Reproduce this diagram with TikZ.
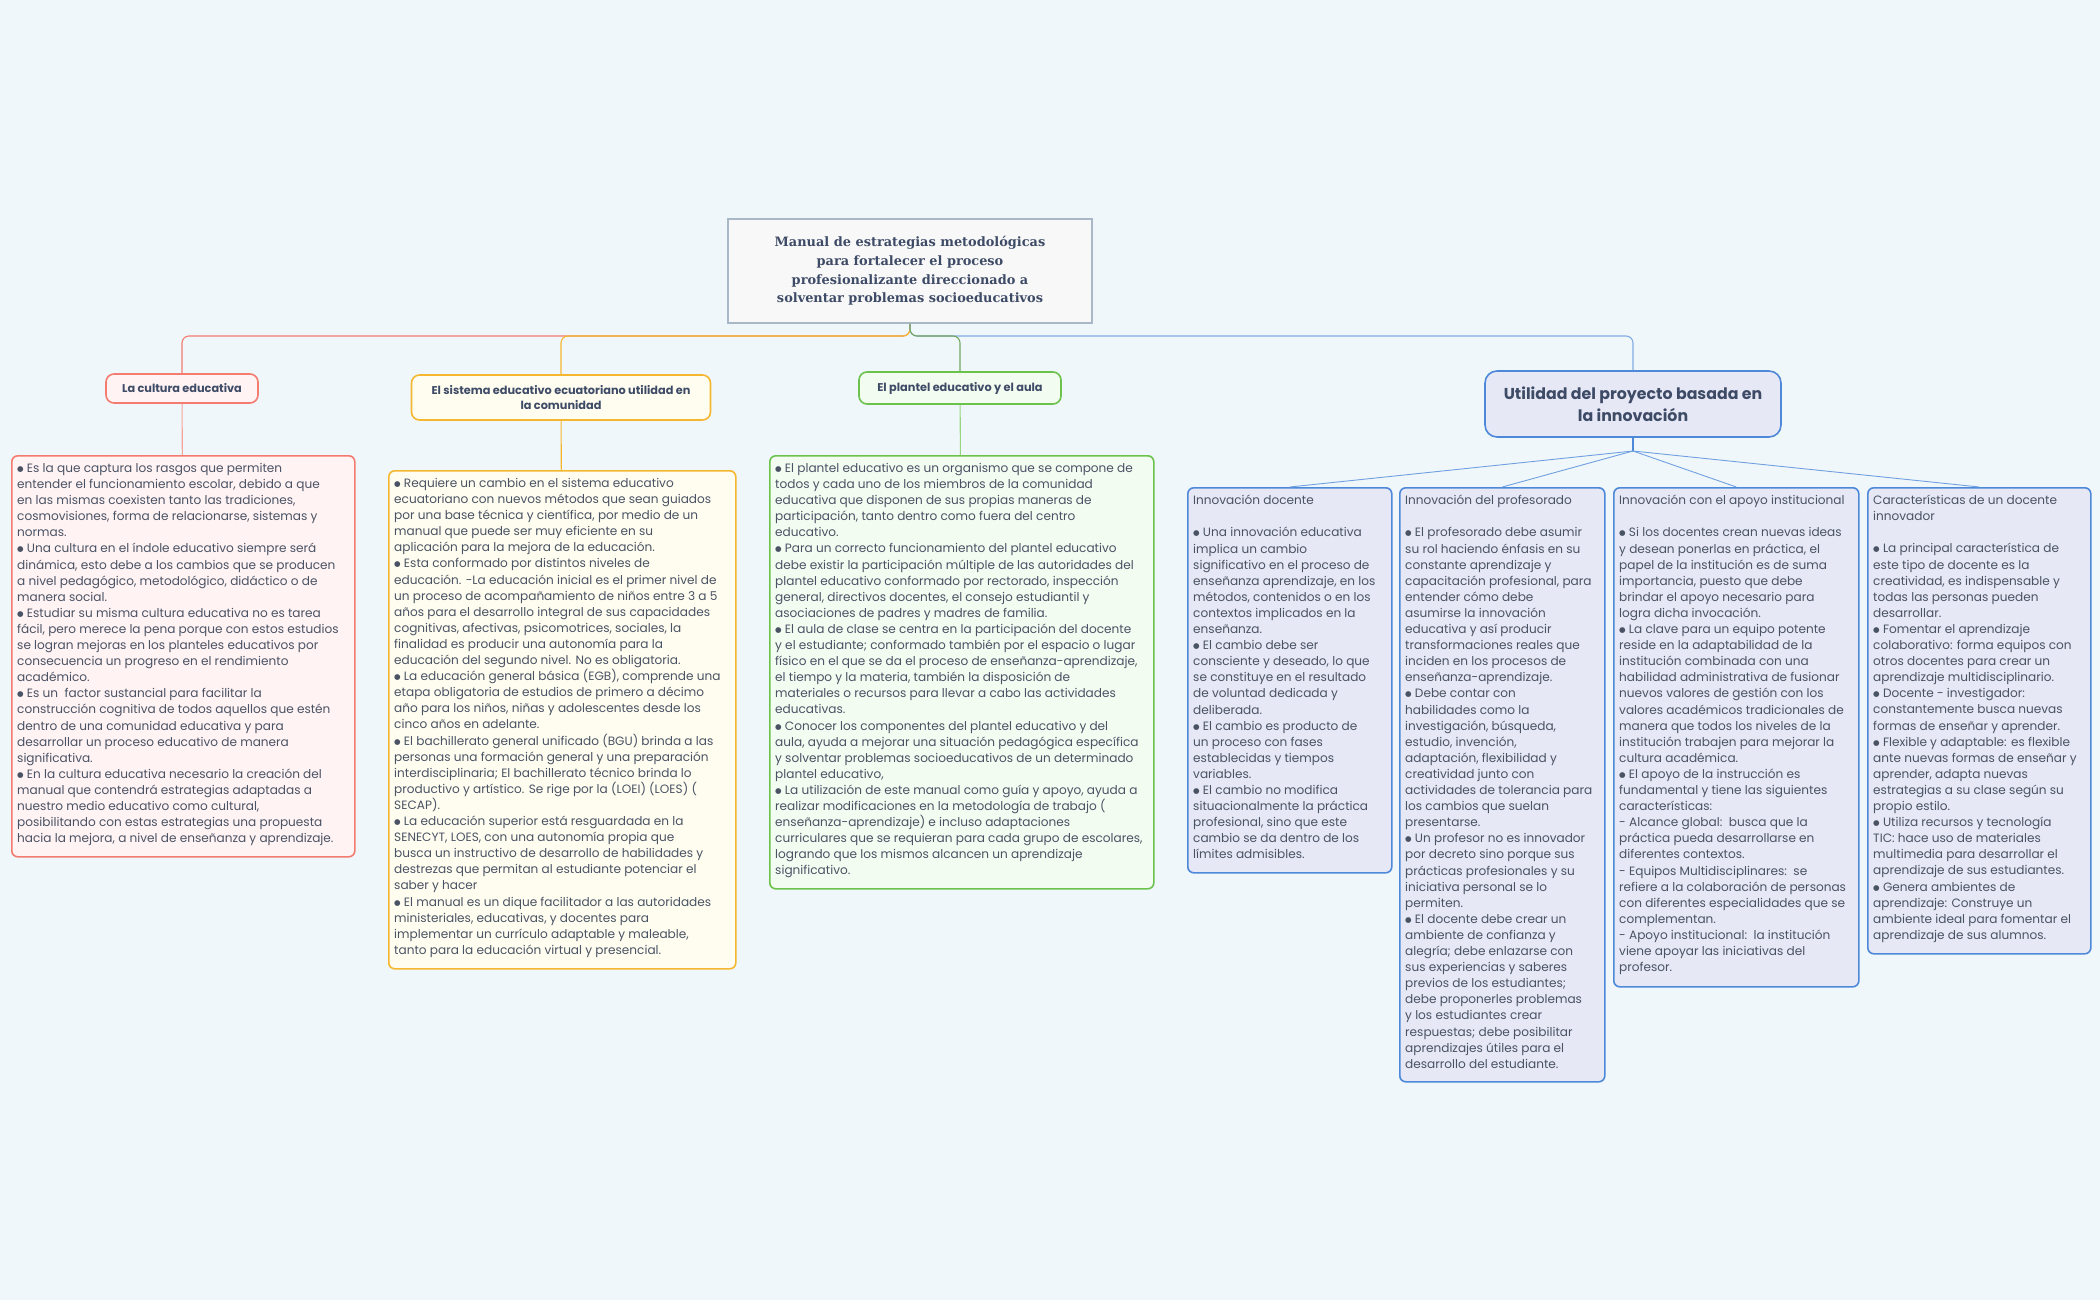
\documentclass[tikz,border=0pt]{standalone}
\usepackage{fontspec}
\setmainfont{Poppins}
\newfontfamily\dejavu{DejaVu Sans}
\newfontfamily\rootfont{DejaVu Serif}
\newcommand\mybul{\raisebox{0.15ex}{\dejavu\fontsize{7.5}{0}\selectfont ●}~}
\definecolor{bg}{HTML}{EFF7FA}
\definecolor{txt}{HTML}{4A5364}
\definecolor{hd}{HTML}{3E4B66}
\definecolor{redb}{HTML}{F37B6F}\definecolor{redf}{HTML}{FFF3F4}
\definecolor{orab}{HTML}{F5B730}\definecolor{oraf}{HTML}{FFFDF0}
\definecolor{grnb}{HTML}{6CC34C}\definecolor{grnf}{HTML}{F3FCF1}
\definecolor{blub}{HTML}{4D88D9}\definecolor{bluf}{HTML}{E6E8F5}
\definecolor{rootb}{HTML}{A9B8C6}\definecolor{rootf}{HTML}{F8F8F8}
\tikzset{
  body/.style={anchor=north west,inner sep=0pt,align=left,text=txt,font=\fontsize{12.1}{16.1}\selectfont},
  box/.style={anchor=north west,draw,line width=1.6pt,rounded corners=6pt,inner sep=0pt},
  lvl/.style={draw,line width=1.6pt,rounded corners=8pt,align=center,text=hd,font=\bfseries\fontsize{11.3}{15}\selectfont,inner sep=0pt},
  conn/.style={line width=1.1pt,rounded corners=7pt},
}
\begin{document}
\begin{tikzpicture}[x=1pt,y=-1pt]
\fill[bg] (0,0) rectangle (2100,1300);
\useasboundingbox (0,0) rectangle (2100,1300);
% root
\node[draw=rootb,fill=rootf,line width=1.6pt,minimum width=364pt,minimum height=104pt,inner sep=0pt,align=center,text=hd,font=\rootfont\bfseries\fontsize{12.9}{18.7}\selectfont] (root) at (910,271)
{Manual de estrategias metodológicas\\para fortalecer el proceso\\profesionalizante direccionado a\\solventar problemas socioeducativos};
% level 1
\node[lvl,draw=redb,fill=redf,minimum width=152pt,minimum height=29pt] (c1) at (182,388.5) {La cultura educativa};
\node[lvl,draw=orab,fill=oraf,minimum width=299pt,minimum height=45pt] (c2) at (561,397.5) {El sistema educativo ecuatoriano utilidad en\\la comunidad};
\node[lvl,draw=grnb,fill=grnf,minimum width=202pt,minimum height=32pt] (c3) at (960,388) {El plantel educativo y el aula};
\node[lvl,draw=blub,fill=bluf,minimum width=296pt,minimum height=66pt,rounded corners=12pt,font=\bfseries\fontsize{15.8}{22}\selectfont] (c4) at (1633,404) {Utilidad del proyecto basada en\\la innovación};
% connectors from root
\coordinate (rb) at (root.south);
\coordinate (bar) at (910,336);
\draw[conn,redb] (rb) -- (bar) -| (c1.north);
\draw[conn,orab] (rb) -- (bar) -| (c2.north);
\draw[conn,blub!70] (rb) -- (bar) -| (c4.north);
\draw[conn,grnb!60!gray] (rb) -- (bar) -| (c3.north);
% level 2 boxes
\node[box,draw=redb,fill=redf,minimum width=343pt,minimum height=401pt] (r1) at (11,455) {};
\node[box,draw=orab,fill=oraf,minimum width=347pt,minimum height=498pt] (o1) at (388,470) {};
\node[box,draw=grnb,fill=grnf,minimum width=384pt,minimum height=433pt] (g1) at (769,455) {};
\node[box,draw=blub,fill=bluf,minimum width=204pt,minimum height=385pt] (b1) at (1187,487) {};
\node[box,draw=blub,fill=bluf,minimum width=205pt,minimum height=594pt] (b2) at (1399,487) {};
\node[box,draw=blub,fill=bluf,minimum width=245pt,minimum height=499pt] (b3) at (1613,487) {};
\node[box,draw=blub,fill=bluf,minimum width=223pt,minimum height=466pt] (b4) at (1867,487) {};
\draw[conn,redb!70] (c1) -- (r1);
\draw[conn,orab] (c2) -- (o1);
\draw[conn,grnb!70] (c3) -- (g1);
\coordinate (fan) at (1633,451);
\draw[conn,blub] (c4.south) -- (fan);
\foreach \b in {b1,b2,b3,b4} \draw[line width=0.9pt,blub!80] (fan) -- (\b.north);
% texts
\node[body] (t1) at (r1.north west) [xshift=6pt,yshift=-8pt] {\mybul Es la que captura los rasgos que permiten\\entender el funcionamiento escolar, debido a que\\en las mismas coexisten tanto las tradiciones,\\cosmovisiones, forma de relacionarse, sistemas y\\normas.\\\mybul Una cultura en el índole educativo siempre será\\dinámica, esto debe a los cambios que se producen\\a nivel pedagógico, metodológico, didáctico o de\\manera social.\\\mybul Estudiar su misma cultura educativa no es tarea\\fácil, pero merece la pena porque con estos estudios\\se logran mejoras en los planteles educativos por\\consecuencia un progreso en el rendimiento\\académico.\\\mybul Es un\ \ factor sustancial para facilitar la\\construcción cognitiva de todos aquellos que estén\\dentro de una comunidad educativa y para\\desarrollar un proceso educativo de manera\\significativa.\\\mybul En la cultura educativa necesario la creación del\\manual que contendrá estrategias adaptadas a\\nuestro medio educativo como cultural,\\posibilitando con estas estrategias una propuesta\\hacia la mejora, a nivel de enseñanza y aprendizaje.};
\node[body] (t2) at (o1.north west) [xshift=6pt,yshift=-8pt] {\mybul Requiere un cambio en el sistema educativo\\ecuatoriano con nuevos métodos que sean guiados\\por una base técnica y científica, por medio de un\\manual que puede ser muy eficiente en su\\aplicación para la mejora de la educación.\\\mybul Esta conformado por distintos niveles de\\educación. -La educación inicial es el primer nivel de\\un proceso de acompañamiento de niños entre 3 a 5\\años para el desarrollo integral de sus capacidades\\cognitivas, afectivas, psicomotrices, sociales, la\\finalidad es producir una autonomía para la\\educación del segundo nivel. No es obligatoria.\\\mybul La educación general básica (EGB), comprende una\\etapa obligatoria de estudios de primero a décimo\\año para los niños, niñas y adolescentes desde los\\cinco años en adelante.\\\mybul El bachillerato general unificado (BGU) brinda a las\\personas una formación general y una preparación\\interdisciplinaria; El bachillerato técnico brinda lo\\productivo y artístico. Se rige por la (LOEI) (LOES) (\\SECAP).\\\mybul La educación superior está resguardada en la\\SENECYT, LOES, con una autonomía propia que\\busca un instructivo de desarrollo de habilidades y\\destrezas que permitan al estudiante potenciar el\\saber y hacer\\\mybul El manual es un dique facilitador a las autoridades\\ministeriales, educativas, y docentes para\\implementar un currículo adaptable y maleable,\\tanto para la educación virtual y presencial.};
\node[body] (t3) at (g1.north west) [xshift=6pt,yshift=-8pt] {\mybul El plantel educativo es un organismo que se compone de\\todos y cada uno de los miembros de la comunidad\\educativa que disponen de sus propias maneras de\\participación, tanto dentro como fuera del centro\\educativo.\\\mybul Para un correcto funcionamiento del plantel educativo\\debe existir la participación múltiple de las autoridades del\\plantel educativo conformado por rectorado, inspección\\general, directivos docentes, el consejo estudiantil y\\asociaciones de padres y madres de familia.\\\mybul El aula de clase se centra en la participación del docente\\y el estudiante; conformado también por el espacio o lugar\\físico en el que se da el proceso de enseñanza-aprendizaje,\\el tiempo y la materia, también la disposición de\\materiales o recursos para llevar a cabo las actividades\\educativas.\\\mybul Conocer los componentes del plantel educativo y del\\aula, ayuda a mejorar una situación pedagógica específica\\y solventar problemas socioeducativos de un determinado\\plantel educativo,\\\mybul La utilización de este manual como guía y apoyo, ayuda a\\realizar modificaciones en la metodología de trabajo (\\enseñanza-aprendizaje) e incluso adaptaciones\\curriculares que se requieran para cada grupo de escolares,\\logrando que los mismos alcancen un aprendizaje\\significativo.};
\node[body] (t4) at (b1.north west) [xshift=6pt,yshift=-8pt] {Innovación docente\\[16.1pt]\mybul Una innovación educativa\\implica un cambio\\significativo en el proceso de\\enseñanza aprendizaje, en los\\métodos, contenidos o en los\\contextos implicados en la\\enseñanza.\\\mybul El cambio debe ser\\consciente y deseado, lo que\\se constituye en el resultado\\de voluntad dedicada y\\deliberada.\\\mybul El cambio es producto de\\un proceso con fases\\establecidas y tiempos\\variables.\\\mybul El cambio no modifica\\situacionalmente la práctica\\profesional, sino que este\\cambio se da dentro de los\\límites admisibles.};
\node[body] (t5) at (b2.north west) [xshift=6pt,yshift=-8pt] {Innovación del profesorado\\[16.1pt]\mybul El profesorado debe asumir\\su rol haciendo énfasis en su\\constante aprendizaje y\\capacitación profesional, para\\entender cómo debe\\asumirse la innovación\\educativa y así producir\\transformaciones reales que\\inciden en los procesos de\\enseñanza-aprendizaje.\\\mybul Debe contar con\\habilidades como la\\investigación, búsqueda,\\estudio, invención,\\adaptación, flexibilidad y\\creatividad junto con\\actividades de tolerancia para\\los cambios que suelan\\presentarse.\\\mybul Un profesor no es innovador\\por decreto sino porque sus\\prácticas profesionales y su\\iniciativa personal se lo\\permiten.\\\mybul El docente debe crear un\\ambiente de confianza y\\alegría; debe enlazarse con\\sus experiencias y saberes\\previos de los estudiantes;\\debe proponerles problemas\\y los estudiantes crear\\respuestas; debe posibilitar\\aprendizajes útiles para el\\desarrollo del estudiante.};
\node[body] (t6) at (b3.north west) [xshift=6pt,yshift=-8pt] {Innovación con el apoyo institucional\\[16.1pt]\mybul Si los docentes crean nuevas ideas\\y desean ponerlas en práctica, el\\papel de la institución es de suma\\importancia, puesto que debe\\brindar el apoyo necesario para\\logra dicha invocación.\\\mybul La clave para un equipo potente\\reside en la adaptabilidad de la\\institución combinada con una\\habilidad administrativa de fusionar\\nuevos valores de gestión con los\\valores académicos tradicionales de\\manera que todos los niveles de la\\institución trabajen para mejorar la\\cultura académica.\\\mybul El apoyo de la instrucción es\\fundamental y tiene las siguientes\\características:\\- Alcance global:\ \ busca que la\\práctica pueda desarrollarse en\\diferentes contextos.\\- Equipos Multidisciplinares:\ \ se\\refiere a la colaboración de personas\\con diferentes especialidades que se\\complementan.\\- Apoyo institucional:\ \ la institución\\viene apoyar las iniciativas del\\profesor.};
\node[body] (t7) at (b4.north west) [xshift=6pt,yshift=-8pt] {Características de un docente\\innovador\\[16.1pt]\mybul La principal característica de\\este tipo de docente es la\\creatividad, es indispensable y\\todas las personas pueden\\desarrollar.\\\mybul Fomentar el aprendizaje\\colaborativo: forma equipos con\\otros docentes para crear un\\aprendizaje multidisciplinario.\\\mybul Docente - investigador:\\constantemente busca nuevas\\formas de enseñar y aprender.\\\mybul Flexible y adaptable: es flexible\\ante nuevas formas de enseñar y\\aprender, adapta nuevas\\estrategias a su clase según su\\propio estilo.\\\mybul Utiliza recursos y tecnología\\TIC: hace uso de materiales\\multimedia para desarrollar el\\aprendizaje de sus estudiantes.\\\mybul Genera ambientes de\\aprendizaje: Construye un\\ambiente ideal para fomentar el\\aprendizaje de sus alumnos.};
\end{tikzpicture}
\end{document}
